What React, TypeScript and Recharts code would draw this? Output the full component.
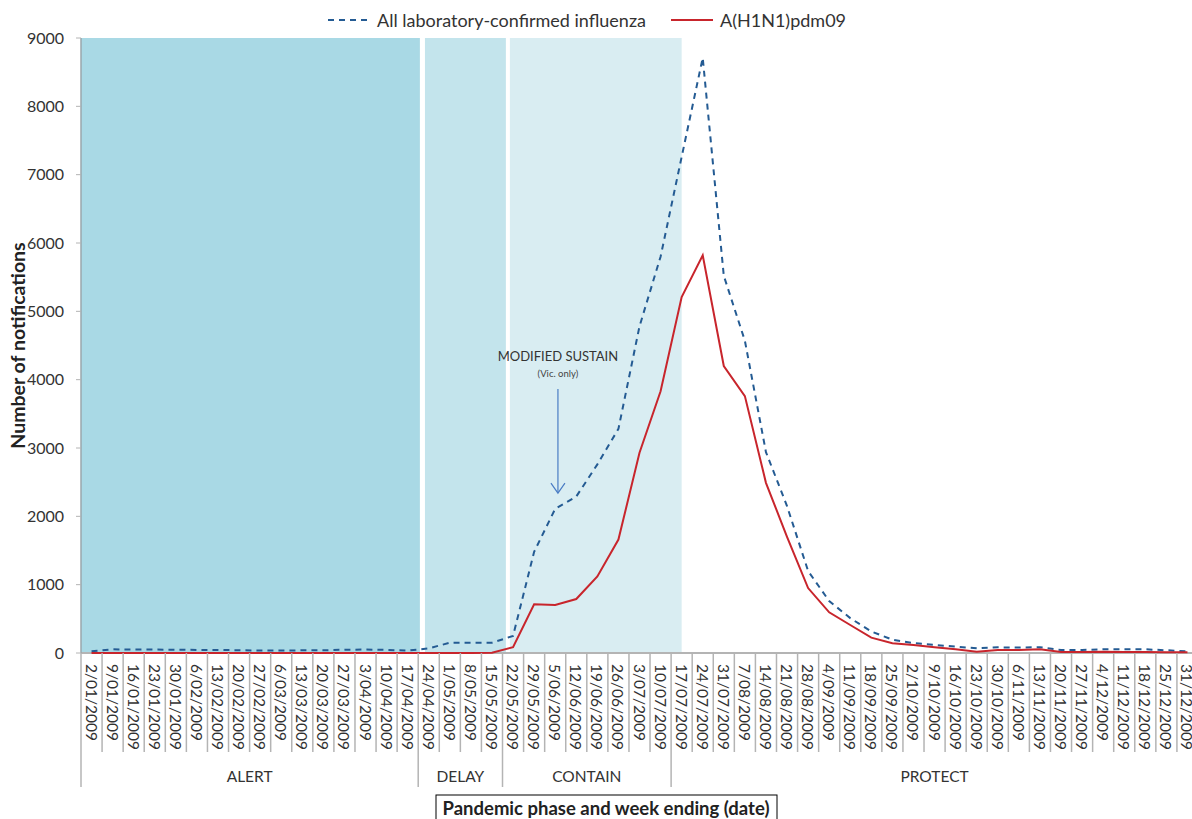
import React from 'react';
import { LineChart, Line, XAxis, YAxis, Legend, ReferenceArea, ReferenceDot, ReferenceLine, Label } from 'recharts';

// week ending dates, 2009
const WEEKS = [
  '2/01/2009', '9/01/2009', '16/01/2009', '23/01/2009', '30/01/2009', '6/02/2009', '13/02/2009',
  '20/02/2009', '27/02/2009', '6/03/2009', '13/03/2009', '20/03/2009', '27/03/2009', '3/04/2009',
  '10/04/2009', '17/04/2009', '24/04/2009', '1/05/2009', '8/05/2009', '15/05/2009', '22/05/2009',
  '29/05/2009', '5/06/2009', '12/06/2009', '19/06/2009', '26/06/2009', '3/07/2009', '10/07/2009',
  '17/07/2009', '24/07/2009', '31/07/2009', '7/08/2009', '14/08/2009', '21/08/2009', '28/08/2009',
  '4/09/2009', '11/09/2009', '18/09/2009', '25/09/2009', '2/10/2009', '9/10/2009', '16/10/2009',
  '23/10/2009', '30/10/2009', '6/11/2009', '13/11/2009', '20/11/2009', '27/11/2009', '4/12/2009',
  '11/12/2009', '18/12/2009', '25/12/2009', '31/12/2009',
];

const ALL_LAB = [
  25, 54, 50, 50, 48, 45, 45, 40, 35, 35, 40, 40, 48, 50, 45, 35,
  68, 150, 150, 150, 250, 1480, 2110, 2290, 2760, 3280, 4780, 5800,
  7260, 8710, 5520, 4570, 2940, 2150, 1200, 760, 510, 315, 195, 145,
  118, 93, 68, 83, 80, 85, 44, 44, 54, 54, 54, 40, 25,
];

const H1N1 = [
  0, 0, 0, 0, 0, 0, 0, 0, 0, 0, 0, 0, 0, 0, 0, 0,
  0, 0, 0, 5, 85, 712, 702, 790, 1120, 1660, 2930, 3830,
  5210, 5820, 4200, 3760, 2490, 1700, 950, 595, 410, 225, 142, 117,
  83, 54, 20, 44, 44, 54, 15, 15, 20, 15, 15, 10, 10,
];

const SERIES_ORDER = ['all', 'h1n1'];

const PHASES = ['ALERT', 'DELAY', 'CONTAIN', 'PROTECT'];
const PHASE_WEEKS = [16, 4, 8, 25];

const Y_TICKS = [0, 1000, 2000, 3000, 4000, 5000, 6000, 7000, 8000, 9000];

const data = WEEKS.map((week, i) => ({ idx: i, week, all: ALL_LAB[i], h1n1: H1N1[i] }));

const CHART_W = 1210;
const CHART_H = 819;
const MARGIN = { top: 38, right: 12, bottom: 26, left: 0 };
const Y_W = 81;
const BAND = (CHART_W - MARGIN.left - MARGIN.right - Y_W) / WEEKS.length;

const FONT = 'Lato, "Open Sans", sans-serif';
const TEXT = '#333333';
const AXIS = '#b4b4b4';
const BLUE = '#245b93';
const RED = '#c8252c';

// phase start / end index for each phase
const phaseStarts = PHASE_WEEKS.map((_, p) => PHASE_WEEKS.slice(0, p).reduce((a, b) => a + b, 0));
const phaseEnds = phaseStarts.map((s, p) => s + PHASE_WEEKS[p] - 1);

const WeekTick = (props: any) => {
  const { x, y, payload } = props;
  const i = payload.value as number;
  const left = x - BAND / 2;
  const right = x + BAND / 2;
  const p = phaseStarts.indexOf(i);
  return (
    <g>
      {i === 0 && <line x1={left} y1={y} x2={left} y2={y + 134} stroke={AXIS} strokeWidth={1.5} />}
      <line x1={right} y1={y} x2={right} y2={y + (phaseEnds.includes(i) ? 134 : 99)} stroke={AXIS} strokeWidth={1.5} />
      <text
        transform={`translate(${x},${y + 11}) rotate(90)`}
        textAnchor="start"
        dominantBaseline="central"
        fontSize={15.5}
        fill={TEXT}
        fontFamily={FONT}
      >
        {WEEKS[i]}
      </text>
      {p >= 0 && (
        <text
          x={left + (PHASE_WEEKS[p] * BAND) / 2}
          y={y + 123}
          textAnchor="middle"
          dominantBaseline="central"
          fontSize={15.5}
          fill={TEXT}
          fontFamily={FONT}
        >
          {PHASES[p]}
        </text>
      )}
    </g>
  );
};

const AxisTitleBox = (props: any) => {
  const { viewBox } = props;
  const bx = viewBox.x + 355;
  const by = viewBox.y + 142;
  return (
    <g>
      <rect x={bx} y={by} width={341} height={40} fill="#fff" stroke="#000" strokeWidth={1} />
      <text x={bx + 170} y={by + 13} textAnchor="middle" dominantBaseline="central" fontSize={18.5} fontWeight="bold" fill="#222" fontFamily={FONT}>
        Pandemic phase and week ending (date)
      </text>
    </g>
  );
};

const YTitle = (props: any) => {
  const { viewBox } = props;
  const cx = viewBox.x + 17;
  const cy = viewBox.y + viewBox.height / 2;
  return (
    <text x={cx} y={cy} transform={`rotate(-90, ${cx}, ${cy})`} textAnchor="middle" dominantBaseline="central" fontSize={19.5} fontWeight="bold" fill="#222" fontFamily={FONT}>
      Number of notifications
    </text>
  );
};

const SustainNote = (props: any) => {
  const { cx, cy } = props;
  return (
    <g fontFamily={FONT}>
      <text x={cx} y={cy - 137} textAnchor="middle" dominantBaseline="central" fontSize={13} fill={TEXT}>MODIFIED SUSTAIN</text>
      <text x={cx} y={cy - 120} textAnchor="middle" dominantBaseline="central" fontSize={9.5} fill="#444">(Vic. only)</text>
      <line x1={cx} y1={cy - 104} x2={cx} y2={cy} stroke="#4a7cc4" strokeWidth={1.2} />
      <polyline points={`${cx - 7},${cy - 10} ${cx},${cy} ${cx + 7},${cy - 10}`} fill="none" stroke="#4a7cc4" strokeWidth={1.2} />
    </g>
  );
};

const LegendContent = (props: any) => {
  const { payload = [] } = props;
  const items = [...payload].sort((a: any, b: any) => SERIES_ORDER.indexOf(a.dataKey) - SERIES_ORDER.indexOf(b.dataKey));
  return (
    <div style={{ display: 'flex', alignItems: 'center', fontFamily: FONT, fontSize: 18, color: TEXT, whiteSpace: 'nowrap' }}>
      {items.map((entry: any, k: number) => (
        <div key={k} style={{ display: 'flex', alignItems: 'center', marginRight: 25 }}>
          <svg width={42} height={10} style={{ marginRight: 7 }}>
            <line x1={0} y1={5} x2={42} y2={5} stroke={entry.color} strokeWidth={2} strokeDasharray={entry.dataKey === 'all' ? '6 5' : undefined} />
          </svg>
          <span>{entry.value}</span>
        </div>
      ))}
    </div>
  );
};

export default function App() {
  return (
    <div style={{ position: 'absolute', left: 0, top: 0, width: 1192, height: 819, overflow: 'hidden', background: '#fff', fontFamily: FONT }}>
      <LineChart width={CHART_W} height={CHART_H} data={data} margin={MARGIN}>
        <ReferenceArea x1={-0.5} x2={15.58} y1={0} y2={9000} fill="#a9d9e5" fillOpacity={1} stroke="none" />
        <ReferenceArea x1={15.82} x2={19.66} y1={0} y2={9000} fill="#c3e4ec" fillOpacity={1} stroke="none" />
        <ReferenceArea x1={19.85} x2={28.0} y1={0} y2={9000} fill="#d9edf2" fillOpacity={1} stroke="none" />
        <ReferenceLine y={0} stroke={AXIS} strokeWidth={2} />
        <XAxis
          dataKey="idx"
          type="number"
          domain={[-0.5, WEEKS.length - 0.5]}
          ticks={WEEKS.map((_, i) => i)}
          interval={0}
          tick={WeekTick}
          tickLine={false}
          tickSize={0}
          tickMargin={0}
          height={140}
          axisLine={false}
        >
          <Label content={AxisTitleBox} />
        </XAxis>
        <YAxis
          type="number"
          domain={[0, 9000]}
          ticks={Y_TICKS}
          width={Y_W}
          tickSize={5}
          tickMargin={12}
          tick={{ fontSize: 16, fill: TEXT, fontFamily: FONT }}
          tickLine={{ stroke: AXIS }}
          axisLine={{ stroke: '#9aa6ab', strokeWidth: 1.5 }}
        >
          <Label content={YTitle} />
        </YAxis>
        <Legend
          content={LegendContent}
          verticalAlign="middle"
          align="center"
          wrapperStyle={{ top: 9, left: 328, width: 620 }}
        />
        <Line
          name="All laboratory-confirmed influenza"
          dataKey="all"
          type="linear"
          stroke={BLUE}
          strokeWidth={2}
          strokeDasharray="6 5"
          dot={false}
          isAnimationActive={false}
          zIndex={600}
        />
        <Line
          name="A(H1N1)pdm09"
          dataKey="h1n1"
          type="linear"
          stroke={RED}
          strokeWidth={2}
          dot={false}
          isAnimationActive={false}
          zIndex={600}
        />
        <ReferenceDot x={22.13} y={2340} ifOverflow="visible" shape={SustainNote} />
      </LineChart>
    </div>
  );
}
